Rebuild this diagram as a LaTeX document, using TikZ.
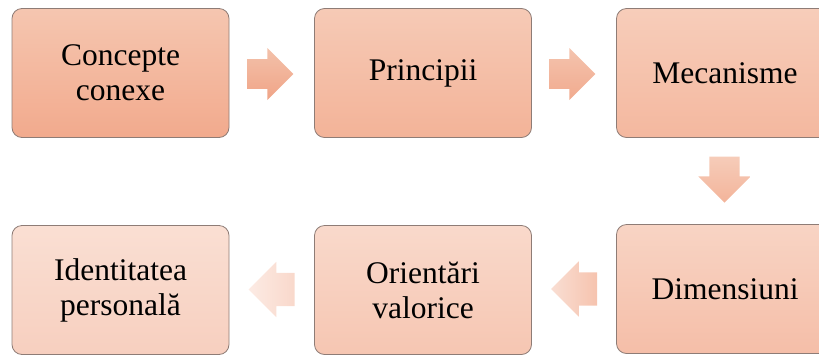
\documentclass[tikz,border=0pt]{standalone}
\usepackage{fontspec}
\setmainfont{Liberation Serif}
\newfontfamily\tnrfont{Liberation Serif}
\usetikzlibrary{shapes.arrows}
\definecolor{boxline}{HTML}{8E7C76}
\definecolor{aT}{HTML}{F5C6B0}\definecolor{aB}{HTML}{F2AA8D}
\definecolor{bT}{HTML}{F6CAB6}\definecolor{bB}{HTML}{F3B398}
\definecolor{cT}{HTML}{F7CDBA}\definecolor{cB}{HTML}{F4B89F}
\definecolor{dT}{HTML}{F8D4C4}\definecolor{dB}{HTML}{F5BEA8}
\definecolor{eT}{HTML}{F9D9CB}\definecolor{eB}{HTML}{F6C6B2}
\definecolor{fT}{HTML}{FADFD3}\definecolor{fB}{HTML}{F7CFBF}
\definecolor{r1T}{HTML}{F3C1AA}\definecolor{r1B}{HTML}{F0A487}
\definecolor{r2T}{HTML}{F4C4AE}\definecolor{r2B}{HTML}{F1AA8E}
\definecolor{dnT}{HTML}{F6CCB9}\definecolor{dnB}{HTML}{F3B49A}
\definecolor{l1L}{HTML}{F9DED3}\definecolor{l1R}{HTML}{F6C3AE}
\definecolor{l2L}{HTML}{FCEBE4}\definecolor{l2R}{HTML}{F9D8CB}
\begin{document}
\begin{tikzpicture}[x=1pt,y=-1pt,
  box/.style={draw=boxline, line width=0.8pt, rounded corners=10pt,
    minimum width=217pt, minimum height=129pt, inner sep=0pt, align=center,
    font=\tnrfont\fontsize{31.5}{35}\selectfont},
  barrow/.style={single arrow, draw=none, minimum height=46pt,
    minimum width=52pt, single arrow head extend=11pt, inner sep=0pt,
    single arrow head indent=0pt}]
\useasboundingbox (0,0) rectangle (819,354);
\clip (0,0) rectangle (819,354);
% boxes
\node[box, top color=aT, bottom color=aB] (b1) at (120.5,73) {Concepte\\conexe};
\node[box, top color=bT, bottom color=bB] (b2) at (423,73) {Principii};
\node[box, top color=cT, bottom color=cB] (b3) at (725,73) {Mecanisme};
\node[box, top color=dT, bottom color=dB] (b6) at (725,289) {Dimensiuni};
\node[box, top color=eT, bottom color=eB] (b5) at (423,290) {Orientări\\valorice};
\node[box, top color=fT, bottom color=fB] (b4) at (120.5,290) {Identitatea\\personală};
% block arrows
\node[barrow, top color=r1T, bottom color=r1B] (a12) at (263,74) {\rule{0pt}{29pt}};
\node[barrow, top color=r2T, bottom color=r2B] (a23) at (565,74) {\rule{0pt}{29pt}};
\node[barrow, shape border rotate=270, top color=dnT, bottom color=dnB] (a36) at (724.5,172) {\rule{30pt}{0pt}};
\node[barrow, shape border rotate=180, left color=l1L, right color=l1R] (a65) at (582.5,289) {\rule{0pt}{33pt}};
\node[barrow, shape border rotate=180, left color=l2L, right color=l2R] (a54) at (280,289.5) {\rule{0pt}{33pt}};
\end{tikzpicture}
\end{document}
